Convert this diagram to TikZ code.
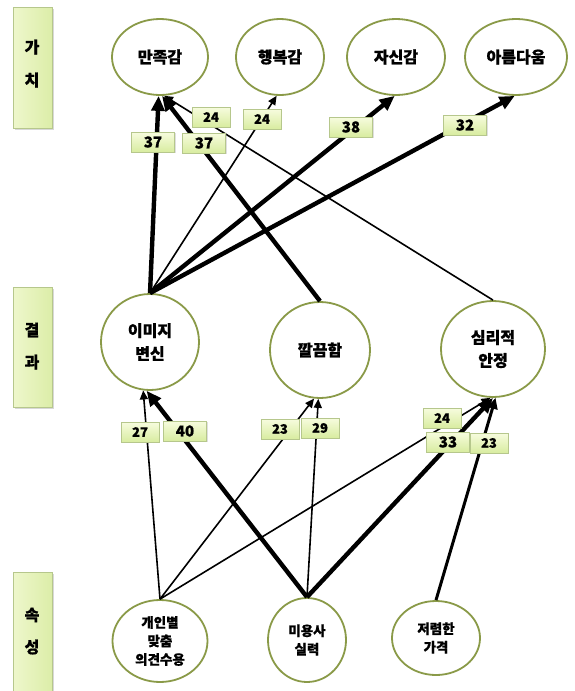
\documentclass[tikz,border=0pt]{standalone}
\usepackage{fontspec}
\setmainfont{Noto Sans CJK KR}[BoldFeatures={FakeBold=0.8}]
\usetikzlibrary{shapes.geometric,arrows.meta,shadows}
\definecolor{rim}{HTML}{8A9A48}
\definecolor{boxtop}{HTML}{F7FCDE}
\definecolor{boxbot}{HTML}{D8ECA0}
\definecolor{boxline}{HTML}{B6C78C}
\definecolor{barleft}{HTML}{EEF7CC}
\definecolor{barright}{HTML}{DCEDA8}
\begin{document}
\begin{tikzpicture}[x=1pt,y=-1pt,
  concept/.style={ellipse, draw=rim, line width=1.8pt, fill=white, inner sep=0pt,
    align=center, font=\fontsize{16}{23}\selectfont\bfseries},
  attr/.style={concept, font=\fontsize{13.5}{18.5}\selectfont\bfseries},
  tierbar/.style={rectangle, draw=boxline, line width=0.6pt, left color=barleft,
    right color=barright, minimum width=39pt, inner sep=0pt,
    drop shadow={shadow xshift=1.5pt, shadow yshift=-1.5pt, opacity=0.3}},
  tiertext/.style={font=\fontsize{16}{18}\selectfont\bfseries, inner sep=0pt},
  weight/.style={rectangle, draw=boxline, line width=0.6pt, top color=boxtop,
    bottom color=boxbot, minimum width=38pt, minimum height=20pt, inner sep=0pt,
    font=\fontsize{13}{15}\selectfont\bfseries,
    drop shadow={shadow xshift=1pt, shadow yshift=-1pt, opacity=0.25}},
  bigweight/.style={weight, minimum width=43pt, font=\fontsize{15}{17}\selectfont\bfseries},
  heavy/.style={line width=4.4pt, -{Triangle[length=15pt,width=13pt]}},
  medium/.style={line width=3pt, -{Triangle[length=11pt,width=10pt]}},
  light/.style={line width=1.6pt, -{Triangle[length=9pt,width=8pt]}}
]
\fill[white] (0,0) rectangle (574,691);
\useasboundingbox (0,0) rectangle (574,691);

% tier bars on the left
\node[tierbar, minimum height=121pt] (barvalue) at (32.5,67.5) {};
\node[tiertext] (tv1) at (32,47) {가};
\node[tiertext] (tv2) at (32,80) {치};
\node[tierbar, minimum height=120pt] (barresult) at (32.5,347) {};
\node[tiertext] (tr1) at (32,330) {결};
\node[tiertext] (tr2) at (32,362) {과};
\node[tierbar, minimum height=125pt] (barattr) at (32.5,635) {};
\node[tiertext] (ta1) at (32,615) {속};
\node[tiertext] (ta2) at (32,647) {성};

% values
\node[concept, minimum width=96pt, minimum height=76pt] (manjok) at (160,57) {만족감};
\node[concept, minimum width=88pt, minimum height=76pt] (haengbok) at (280,57) {행복감};
\node[concept, minimum width=98pt, minimum height=76pt] (jasin) at (396,57) {자신감};
\node[concept, minimum width=102pt, minimum height=76pt] (areum) at (516,57) {아름다움};

% consequences
\node[concept, minimum width=98pt, minimum height=96pt] (imiji) at (150,342) {이미지\\변신};
\node[concept, minimum width=100pt, minimum height=96pt] (kkal) at (320,350) {깔끔함};
\node[concept, minimum width=104pt, minimum height=96pt] (simri) at (493,349) {심리적\\안정};

% attributes
\node[attr, minimum width=95pt, minimum height=82pt] (gaein) at (160,641) {개인별\\맞춤\\의견수용};
\node[attr, minimum width=78pt, minimum height=84pt] (miyong) at (307,640) {미용사\\실력};
\node[attr, minimum width=88pt, minimum height=74pt] (jeoryeom) at (436,638) {저렴한\\가격};

% links from consequences to values
\draw[light] (simri.north) -- (manjok.276);
\draw[heavy] (imiji.north) -- (manjok.268);
\draw[heavy] (kkal.north) -- (manjok.273);
\draw[light] (imiji.north) -- (haengbok.265);
\draw[heavy] (imiji.north) -- (jasin.268);
\draw[heavy] (imiji.north) -- (areum.268);

% links from attributes to consequences
\draw[light] (gaein.north) -- (imiji.262);
\draw[heavy] (miyong.north) -- (imiji.266);
\draw[light] (gaein.north) -- (kkal.263);
\draw[light] (miyong.north) -- (kkal.268);
\draw[light] (gaein.north) -- (simri.267);
\draw[heavy] (miyong.north) -- (simri.270);
\draw[medium] (jeoryeom.north) -- (simri.273);

% link counts
\node[bigweight] (w37a) at (153,142) {37};
\node[bigweight] (w37b) at (204,143) {37};
\node[weight] (w24a) at (211,117) {24};
\node[weight] (w24b) at (262,119) {24};
\node[bigweight] (w38) at (351,127) {38};
\node[bigweight] (w32) at (465,125) {32};
\node[weight] (w27) at (140,432) {27};
\node[bigweight] (w40) at (185,431) {40};
\node[weight] (w23a) at (280,429) {23};
\node[weight] (w29) at (320,428) {29};
\node[weight] (w24c) at (442,418) {24};
\node[bigweight] (w33) at (448,442) {33};
\node[weight] (w23b) at (489,443) {23};
\end{tikzpicture}
\end{document}
